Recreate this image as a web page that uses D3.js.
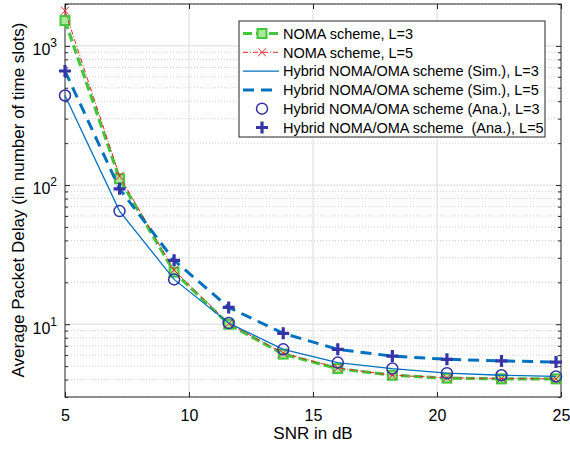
<!DOCTYPE html>
<html>
<head>
<meta charset="utf-8">
<script src="https://cdn.jsdelivr.net/npm/d3@7"></script>
<style>
  body { margin: 0; background: #fff; }
  text { font-family: "Liberation Sans", Arial, sans-serif; fill: #000; }
</style>
</head>
<body>
<div id="chart"></div>
<script>
// data
var snr = [5, 7.2, 9.4, 11.6, 13.8, 16, 18.2, 20.4, 22.6, 24.8];
var nomaL3 = [1520, 111, 23.7, 10.0, 6.1, 4.8, 4.3, 4.1, 4.05, 4.05];
var nomaL5 = [1790, 116, 24.5, 10.1, 6.2, 4.85, 4.3, 4.12, 4.07, 4.05];
var hybSimL3 = [440, 65, 21, 10.2, 6.6, 5.3, 4.8, 4.45, 4.3, 4.22];
var hybSimL5 = [660, 94, 28.8, 13.2, 8.6, 6.6, 5.9, 5.6, 5.45, 5.35];
var hybAnaL3 = [440, 65, 21, 10.2, 6.6, 5.3, 4.8, 4.45, 4.3, 4.22];
var hybAnaL5 = [660, 94, 28.8, 13.2, 8.6, 6.6, 5.9, 5.6, 5.45, 5.35];

var xTicks = [5, 10, 15, 20, 25];
var yMajor = [10, 100, 1000];
var legendLabels = [
    "NOMA scheme, L=3",
    "NOMA scheme, L=5",
    "Hybrid NOMA/OMA scheme (Sim.), L=3",
    "Hybrid NOMA/OMA scheme (Sim.), L=5",
    "Hybrid NOMA/OMA scheme (Ana.), L=3",
    "Hybrid NOMA/OMA scheme \u00a0(Ana.), L=5"
];

var width = 570, height = 449;
var margin = {top: 4, right: 9, bottom: 52, left: 65};

var svg = d3.select("#chart").append("svg")
    .attr("width", width).attr("height", height);

var xScale = d3.scaleLinear().domain([5, 25]).range([margin.left, width - margin.right]);
var yScale = d3.scaleLog().domain([3, 2000]).range([height - margin.bottom, margin.top]);

var x0 = margin.left, x1 = width - margin.right;
var y0 = height - margin.bottom, y1 = margin.top;

// minor y values (2..9 of each decade inside domain)
var yMinor = [];
[1, 10, 100, 1000].forEach(function(dec) {
    for (var k = 2; k <= 9; k++) {
        var v = k * dec;
        if (v >= 3 && v <= 2000 && yMajor.indexOf(v) < 0) yMinor.push(v);
    }
});

// grid
var grid = svg.append("g");
grid.selectAll(".ymin").data(yMinor).enter().append("line")
    .attr("x1", x0).attr("x2", x1)
    .attr("y1", function(d) { return yScale(d); })
    .attr("y2", function(d) { return yScale(d); })
    .attr("stroke", "#cfcfcf").attr("stroke-width", 1)
    .attr("stroke-dasharray", "1,2");
grid.selectAll(".ymaj").data(yMajor).enter().append("line")
    .attr("x1", x0).attr("x2", x1)
    .attr("y1", function(d) { return yScale(d); })
    .attr("y2", function(d) { return yScale(d); })
    .attr("stroke", "#dcdcdc").attr("stroke-width", 1);
grid.selectAll(".xg").data([10, 15, 20]).enter().append("line")
    .attr("y1", y0).attr("y2", y1)
    .attr("x1", function(d) { return xScale(d); })
    .attr("x2", function(d) { return xScale(d); })
    .attr("stroke", "#dcdcdc").attr("stroke-width", 1);

// axes
function styleAxis(g) {
    g.select(".domain").remove();
    g.selectAll(".tick line").attr("stroke", "#262626");
}

svg.append("g")
    .attr("transform", "translate(0," + y0 + ")")
    .call(d3.axisBottom(xScale).tickValues(xTicks).tickSize(-5).tickPadding(13).tickFormat(d3.format("d")))
    .call(styleAxis)
    .selectAll("text").attr("font-size", 16).attr("font-family", "Liberation Sans, Arial, sans-serif");

svg.append("g")
    .attr("transform", "translate(0," + y1 + ")")
    .call(d3.axisTop(xScale).tickValues(xTicks).tickSize(-5).tickFormat(""))
    .call(styleAxis);

var yAxisG = svg.append("g")
    .attr("transform", "translate(" + x0 + ",0)")
    .call(d3.axisLeft(yScale).tickValues(yMajor).tickSize(-5).tickPadding(8).tickFormat(""))
    .call(styleAxis);

yAxisG.selectAll(".tick text").each(function(d) {
    var t = d3.select(this).attr("font-size", 16).attr("font-family", "Liberation Sans, Arial, sans-serif")
        .attr("dy", "0.55em");
    t.append("tspan").text("10");
    t.append("tspan").attr("dy", -8).attr("font-size", 12).text(Math.round(Math.log10(d)));
});

svg.append("g")
    .attr("transform", "translate(" + x0 + ",0)")
    .call(d3.axisLeft(yScale).tickValues(yMinor).tickSize(-3).tickFormat(""))
    .call(styleAxis);

svg.append("g")
    .attr("transform", "translate(" + x1 + ",0)")
    .call(d3.axisRight(yScale).tickValues(yMajor).tickSize(-5).tickFormat(""))
    .call(styleAxis);
svg.append("g")
    .attr("transform", "translate(" + x1 + ",0)")
    .call(d3.axisRight(yScale).tickValues(yMinor).tickSize(-3).tickFormat(""))
    .call(styleAxis);

// box
svg.append("rect")
    .attr("x", x0).attr("y", y1)
    .attr("width", x1 - x0).attr("height", y0 - y1)
    .attr("fill", "none").attr("stroke", "#262626").attr("stroke-width", 1);

// series styles
var series = [
    {vals: nomaL3, color: "#44c63c", width: 3.2, dash: "9,4", marker: "square", line: true},
    {vals: nomaL5, color: "#e8242a", width: 1, dash: "5,2,1,2", marker: "x", line: true},
    {vals: hybSimL3, color: "#0072bd", width: 1.3, dash: null, marker: null, line: true},
    {vals: hybSimL5, color: "#0072bd", width: 3, dash: "11,7", marker: null, line: true},
    {vals: hybAnaL3, color: "#2f2fa8", width: 1.5, dash: null, marker: "circle", line: false},
    {vals: hybAnaL5, color: "#3535a8", width: 3, dash: null, marker: "plus", line: false}
];

var line = d3.line()
    .x(function(d) { return xScale(d[0]); })
    .y(function(d) { return yScale(d[1]); });

function drawMarker(g, type, cx, cy, color) {
    if (type == "square") {
        g.append("rect").attr("x", cx - 4.5).attr("y", cy - 4.5)
            .attr("width", 9).attr("height", 9)
            .attr("fill", "#a8e896").attr("stroke", "#44c63c").attr("stroke-width", 2);
    } else if (type == "x") {
        g.append("path").attr("d", "M" + (cx - 4) + "," + (cy - 4) + "L" + (cx + 4) + "," + (cy + 4) +
            "M" + (cx - 4) + "," + (cy + 4) + "L" + (cx + 4) + "," + (cy - 4))
            .attr("stroke", color).attr("stroke-width", 1).attr("fill", "none");
    } else if (type == "circle") {
        g.append("circle").attr("cx", cx).attr("cy", cy).attr("r", 5.5)
            .attr("fill", "none").attr("stroke", color).attr("stroke-width", 1.5);
    } else if (type == "plus") {
        g.append("path").attr("d", "M" + (cx - 6) + "," + cy + "L" + (cx + 6) + "," + cy +
            "M" + cx + "," + (cy - 6) + "L" + cx + "," + (cy + 6))
            .attr("stroke", color).attr("stroke-width", 3.2).attr("fill", "none");
    }
}

var plot = svg.append("g");
// draw lines first (in order), then markers
series.forEach(function(s) {
    if (!s.line) return;
    var pts = snr.map(function(x, i) { return [x, s.vals[i]]; });
    plot.append("path").datum(pts)
        .attr("d", line)
        .attr("fill", "none")
        .attr("stroke", s.color)
        .attr("stroke-width", s.width)
        .attr("stroke-dasharray", s.dash);
    if (s.marker) {
        pts.forEach(function(p) { drawMarker(plot, s.marker, xScale(p[0]), yScale(p[1]), s.color); });
    }
});
series.forEach(function(s) {
    if (s.line) return;
    snr.forEach(function(x, i) { drawMarker(plot, s.marker, xScale(x), yScale(s.vals[i]), s.color); });
});

// legend
var lg = svg.append("g").attr("transform", "translate(239,21)");
lg.append("rect").attr("width", 306).attr("height", 116)
    .attr("fill", "#fff").attr("stroke", "#262626").attr("stroke-width", 1);
series.forEach(function(s, i) {
    var yy = 12.5 + i * 18.8;
    if (s.line) {
        lg.append("line").attr("x1", 4).attr("x2", 40).attr("y1", yy).attr("y2", yy)
            .attr("stroke", s.color).attr("stroke-width", s.width)
            .attr("stroke-dasharray", s.dash);
    }
    if (s.marker) drawMarker(lg, s.marker, 23, yy, s.color);
    lg.append("text").attr("x", 44).attr("y", yy + 5.2)
        .attr("font-size", 14.5).text(legendLabels[i]);
});

// axis labels
svg.append("text")
    .attr("x", xScale(15)).attr("y", 439)
    .attr("text-anchor", "middle").attr("font-size", 17)
    .text("SNR in dB");

svg.append("text")
    .attr("text-anchor", "middle")
    .attr("transform", "translate(" + [24, 200] + ") rotate(-90)")
    .attr("font-size", 17)
    .text("Average Packet Delay (in number of time slots)");
</script>
</body>
</html>
